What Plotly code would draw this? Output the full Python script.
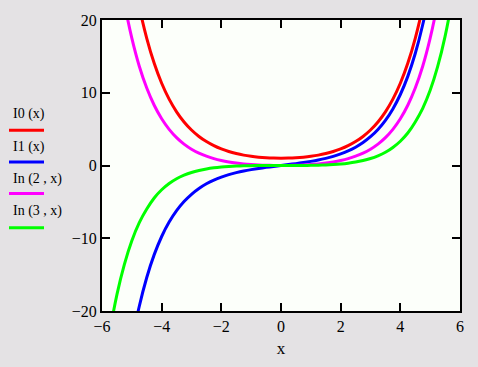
import plotly.graph_objects as go

x = [-6, -5.75, -5.5, -5.25, -5, -4.75, -4.5, -4.25, -4, -3.75, -3.5, -3.25, -3, -2.75, -2.5, -2.25,
     -2, -1.75, -1.5, -1.25, -1, -0.75, -0.5, -0.25, 0, 0.25, 0.5, 0.75, 1, 1.25, 1.5, 1.75, 2,
     2.25, 2.5, 2.75, 3, 3.25, 3.5, 3.75, 4, 4.25, 4.5, 4.75, 5, 5.25, 5.5, 5.75, 6]

i0 = [67.23, 53.6, 42.69, 34.10, 27.2399, 21.7917, 17.4812, 14.0431, 11.3019, 9.1189, 7.3782, 5.9895,
      4.8808, 3.9948, 3.2898, 2.7270, 2.2796, 1.9245, 1.6467, 1.4296, 1.2661, 1.1456, 1.0635, 1.0157,
      1.0000, 1.0157, 1.0635, 1.1456, 1.2661, 1.4296, 1.6467, 1.9245, 2.2796, 2.7270, 3.2898, 3.9948,
      4.8808, 5.9895, 7.3782, 9.1189, 11.3019, 14.0431, 17.4812, 21.7917, 27.2399, 34.10, 42.69, 53.6, 67.23]

i1 = [-61.34, -48.6, -38.59, -30.65, -24.3356, -19.3440, -15.3892, -12.2513, -9.7595, -7.7800, -6.2058,
      -4.9525, -3.9534, -3.1554, -2.5167, -2.0040, -1.5906, -1.2555, -0.9817, -0.7553, -0.5652, -0.4020,
      -0.2579, -0.1260, 0.0, 0.1260, 0.2579, 0.4020, 0.5652, 0.7553, 0.9817, 1.2555, 1.5906, 2.0040,
      2.5167, 3.1554, 3.9534, 4.9525, 6.2058, 7.7800, 9.7595, 12.2513, 15.3892, 19.3440, 24.3356, 30.65,
      38.59, 48.6, 61.34]

i2 = [46.79, 36.7, 28.66, 22.4, 17.5064, 13.6469, 10.6416, 8.2778, 6.4222, 4.9696, 3.8320, 2.9418,
      2.2452, 1.7000, 1.2765, 0.9457, 0.6889, 0.4896, 0.3378, 0.2211, 0.1357, 0.0736, 0.0319, 0.0079,
      0.0, 0.0079, 0.0319, 0.0736, 0.1357, 0.2211, 0.3378, 0.4896, 0.6889, 0.9457, 1.2765, 1.7000,
      2.2452, 2.9418, 3.8320, 4.9696, 6.4222, 8.2778, 10.6416, 13.6469, 17.5064, 22.4, 28.66, 36.7, 46.79]

i3 = [-30.15, -23.2, -17.75, -13.58, -10.3312, -7.8518, -5.9856, -4.4604, -3.3373, -2.4791, -1.8163,
      -1.3318, -0.9598, -0.6827, -0.4743, -0.3228, -0.2127, -0.1347, -0.0807, -0.0448, -0.0222, -0.0091,
      -0.0026, -0.0003, 0.0, 0.0003, 0.0026, 0.0091, 0.0222, 0.0448, 0.0807, 0.1347, 0.2127, 0.3228,
      0.4743, 0.6827, 0.9598, 1.3318, 1.8163, 2.4791, 3.3373, 4.4604, 5.9856, 7.8518, 10.3312, 13.58,
      17.75, 23.2, 30.15]

labels = ["I0 (x)", "I1 (x)", "In (2 , x)", "In (3 , x)"]
colors = ["#FF0000", "#0000FF", "#FF00FF", "#00FF00"]
series = [i0, i1, i2, i3]

fig = go.Figure()
for ys, c, name in zip(series, colors, labels):
    fig.add_trace(go.Scatter(x=x, y=ys, mode="lines", name=name,
                             line=dict(color=c, width=3, shape="spline", smoothing=0.6)))

W, H = 478, 367
L, R, T, B = 102, 460, 16, 313
pw, ph = R - L, B - T

def px(v):
    return (v - L) / pw

def py(v):
    return (B - v) / ph

text_y = [112, 146, 178, 211]
line_y = [128.5, 161, 193, 228]
for lab, c, ty, ly in zip(labels, colors, text_y, line_y):
    fig.add_annotation(x=px(11), y=py(ty), xref="paper", yref="paper", text=lab,
                       showarrow=False, xanchor="left", yanchor="middle",
                       font=dict(family="Liberation Serif", size=14, color="black"))
    fig.add_shape(type="line", xref="paper", yref="paper", x0=px(9), x1=px(44),
                  y0=py(ly), y1=py(ly), line=dict(color=c, width=3))

axis_common = dict(showgrid=False, zeroline=False, showline=True, linecolor="black", linewidth=2,
                   mirror="ticks", ticks="inside", ticklen=8, tickwidth=1.5, tickcolor="black",
                   tickfont=dict(family="Liberation Serif", size=16, color="black"))

fig.update_xaxes(range=[-6, 6], tick0=-6, dtick=2, title=dict(text="x", standoff=8,
                 font=dict(family="Liberation Serif", size=17, color="black")), **axis_common)
fig.update_yaxes(range=[-20, 20], tick0=-20, dtick=10, **axis_common)

fig.update_layout(width=W, height=H, margin=dict(l=L, r=W - R, t=T, b=H - B),
                  paper_bgcolor="#E4E2E4", plot_bgcolor="#FCFFFA", showlegend=False)

fig.write_html("out.html")
